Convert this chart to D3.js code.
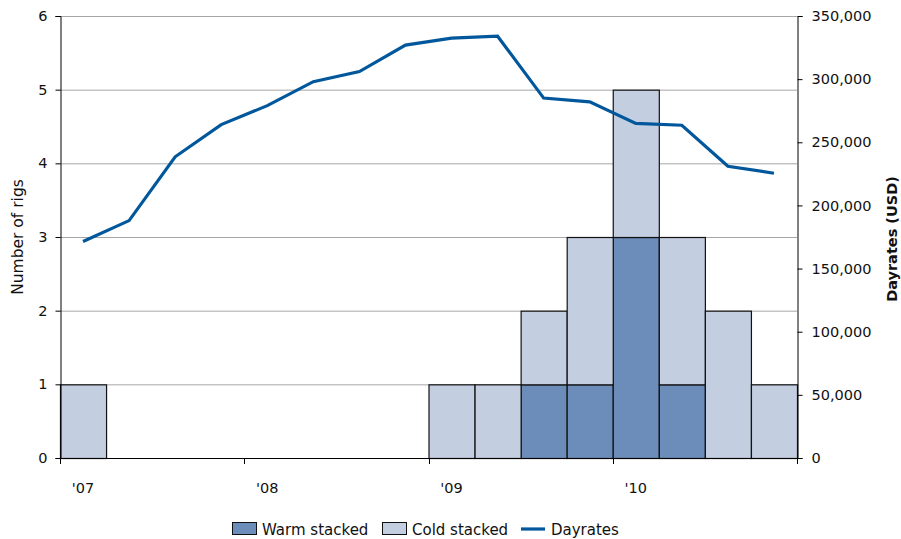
<!DOCTYPE html>
<html><head><meta charset="utf-8">
<script src="https://cdn.jsdelivr.net/npm/d3@7"></script>
<style>body{margin:0;background:#fff}svg{display:block}text{font-family:"DejaVu Sans",sans-serif}</style>
</head><body><svg id="c" width="901" height="539"></svg>
<script>
const quarters = ["Q1'07","Q2'07","Q3'07","Q4'07","Q1'08","Q2'08","Q3'08","Q4'08","Q1'09","Q2'09","Q3'09","Q4'09","Q1'10","Q2'10","Q3'10","Q4'10"];
const warmStacked = [0,0,0,0,0,0,0,0,0,0,1,1,3,1,0,0];
const coldStacked = [1,0,0,0,0,0,0,0,1,1,1,2,2,2,2,1];
const dayrates = [171500,188000,238500,264000,279000,298000,306000,327000,332500,334000,285000,282000,265000,263500,231000,225500];
const yearLabels = ["'07","'08","'09","'10"];
const leftTicks = [0,1,2,3,4,5,6];
const rightTicks = [0,50000,100000,150000,200000,250000,300000,350000];

const svg = d3.select("#c");
const m = {l:60, r:797, t:16, b:458};
const x = d3.scaleBand().domain(quarters).range([m.l, m.r]).padding(0);
const yL = d3.scaleLinear().domain([0,6]).range([m.b, m.t]);
const yR = d3.scaleLinear().domain([0,350000]).range([m.b, m.t]);
const FS = 14.5;
const FF = '"DejaVu Sans",sans-serif';

// gridlines
svg.append("g").selectAll("line").data(leftTicks.slice(1)).join("line")
  .attr("x1", m.l).attr("x2", m.r).attr("y1", d=>yL(d)+0.5).attr("y2", d=>yL(d)+0.5)
  .attr("stroke", "#a6a6a6").attr("stroke-width", 1);

// bars
const stack = d3.stack().keys(["warm","cold"])(quarters.map((q,i)=>({q, warm:warmStacked[i], cold:coldStacked[i]})));
const colors = {warm:"#6c8cb9", cold:"#c3cee1"};
stack.forEach(s=>{
  svg.append("g").selectAll("rect").data(s.filter(d=>d[1]-d[0]>0)).join("rect")
    .attr("x", d=>x(d.data.q)+0.5).attr("width", x.bandwidth())
    .attr("y", d=>yL(d[1])+0.5).attr("height", d=>yL(d[0])-yL(d[1]))
    .attr("fill", colors[s.key]).attr("stroke", "#111").attr("stroke-width", 1.2);
});

// bottom axis
const xa = svg.append("g");
xa.append("line").attr("x1", m.l).attr("x2", m.r).attr("y1", m.b+0.5).attr("y2", m.b+0.5).attr("stroke","#000");
const tickQs = [0,4,8,12,16];
xa.selectAll(".xt").data(tickQs).join("line").attr("class","xt")
  .attr("x1", i=>Math.round(m.l + i*x.step())+0.5).attr("x2", i=>Math.round(m.l + i*x.step())+0.5)
  .attr("y1", m.b).attr("y2", m.b+6).attr("stroke","#000");
xa.selectAll("text").data(yearLabels).join("text")
  .attr("x", (d,i)=>x(quarters[i*4])+x.bandwidth()/2).attr("y", m.b+35)
  .attr("text-anchor","middle").attr("font-size",FS).attr("fill","#111").text(d=>d);

// left axis
const la = svg.append("g").attr("transform",`translate(${m.l+0.5},0)`)
  .call(d3.axisLeft(yL).tickValues(leftTicks).tickFormat(d3.format("d")).tickSize(5).tickPadding(8));
la.select(".domain").attr("stroke","#000");
la.selectAll("text").attr("font-size",FS).attr("fill","#111").style("font-family",FF);

// right axis
const ra = svg.append("g").attr("transform",`translate(${m.r+0.5},0)`)
  .call(d3.axisRight(yR).tickValues(rightTicks).tickFormat(d3.format(",")).tickSize(5).tickPadding(9));
ra.select(".domain").attr("stroke","#000");
ra.selectAll("text").attr("font-size",FS).attr("fill","#111").style("font-family",FF);

// line
const line = d3.line().x((d,i)=>x(quarters[i])+x.bandwidth()/2).y(d=>yR(d));
svg.append("path").datum(dayrates).attr("d", line).attr("fill","none")
  .attr("stroke","#00579b").attr("stroke-width",3.2).attr("stroke-linejoin","miter");

// axis titles
svg.append("text").attr("transform",`translate(23,237) rotate(-90)`).attr("text-anchor","middle")
  .attr("font-size",15.5).attr("fill","#111").text("Number of rigs");
svg.append("text").attr("transform",`translate(897,239) rotate(-90)`).attr("text-anchor","middle")
  .attr("font-size",14.5).attr("font-weight","bold").attr("fill","#111").text("Dayrates (USD)");

// legend
const lg = svg.append("g").attr("transform","translate(0,529)");
const items = [
  {label:"Warm stacked", type:"rect", color:colors.warm, x:232},
  {label:"Cold stacked", type:"rect", color:colors.cold, x:382},
  {label:"Dayrates", type:"line", color:"#00579b", x:521}
];
items.forEach(it=>{
  if(it.type==="rect") lg.append("rect").attr("x",it.x+0.5).attr("y",-6.5).attr("width",24).attr("height",12)
    .attr("fill",it.color).attr("stroke","#111").attr("stroke-width",1);
  else lg.append("line").attr("x1",it.x).attr("x2",it.x+24).attr("y1",0).attr("y2",0).attr("stroke",it.color).attr("stroke-width",3.2);
  lg.append("text").attr("x",it.x+30).attr("y",5.5).attr("font-size",15).attr("fill","#111").text(it.label);
});
</script></body></html>
